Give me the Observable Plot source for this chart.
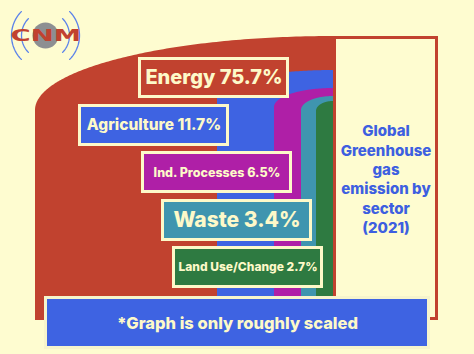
<!DOCTYPE html>
<html>
<head>
<meta charset="utf-8">
<script src="https://cdn.jsdelivr.net/npm/d3@7"></script>
<script src="https://cdn.jsdelivr.net/npm/@observablehq/plot@0.6"></script>
<style>
  html, body { margin: 0; padding: 0; background: #FEFCD0; }
  #chart svg { display: block; }
</style>
</head>
<body>
<div id="chart"></div>
<script>
// ---- data ----
const sectors = ["Energy", "Agriculture", "Ind. Processes", "Waste", "Land Use/Change"];
const shares = [75.7, 11.7, 6.5, 3.4, 2.7];
const titleLines = ["Global", "Greenhouse", "gas", "emission by", "sector", "(2021)"];
const note = "*Graph is only roughly scaled";
const logoText = "CNM";

// ---- layout / style (pixels in a 474x354 frame) ----
const W = 474, H = 354;
const bg = "#FEFCD0";
const cream = "#FDF9C9";
const colors = ["#C1422F", "#3E63E2", "#AF1FA7", "#3F95AF", "#2E7A41"];
const colLeft = [35, 217, 274, 301, 316];
const colTop = [36, 70, 88, 96, 101];
const colRy = [74, 25, 19, 14, 10];
const colBottom = [320, 300, 300, 300, 300];
const colRight = 333;
const boxes = [
  [138, 57, 289, 98],
  [78, 104, 229, 146],
  [141, 151, 292, 193],
  [161, 199, 312, 241],
  [172, 246, 323, 288]
];
const labelSize = [20, 15.5, 12.5, 21, 12];
const font = "Inter, 'Open Sans', sans-serif";

// column shapes: rounded (elliptical) top-left corner
const columns = sectors.flatMap((s, i) => {
  const n = 160, pts = [];
  for (let k = 0; k <= n; k++) {
    const t = (Math.PI / 2) * Math.pow(k / n, 1.6);
    pts.push({
      sector: s,
      x: colRight - (colRight - colLeft[i]) * Math.cos(t),
      y1: colTop[i] + colRy[i] - colRy[i] * Math.sin(t),
      y2: colBottom[i]
    });
  }
  return pts;
});

const labels = sectors.map((s, i) => ({
  text: `${s} ${shares[i]}%`,
  x1: boxes[i][0] + 1.5, y1: boxes[i][1] + 1.5,
  x2: boxes[i][2] - 1.5, y2: boxes[i][3] - 1.5,
  cx: (boxes[i][0] + boxes[i][2]) / 2,
  cy: (boxes[i][1] + boxes[i][3]) / 2,
  fill: colors[i],
  size: labelSize[i]
}));

// logo arcs
const arcs = [];
[24, 34].forEach(r => {
  [Math.PI, 0].forEach((c, side) => {
    for (let k = 0; k <= 30; k++) {
      const a = c + (-0.78 + 1.56 * k / 30);
      arcs.push({id: r + "-" + side, x: 45 + r * Math.cos(a), y: 35 + r * Math.sin(a)});
    }
  });
});

const chart = Plot.plot({
  width: W, height: H, margin: 0,
  x: {domain: [0, W], range: [0, W], axis: null},
  y: {domain: [0, H], range: [0, H], axis: null},
  color: {type: "identity"},
  style: {background: "transparent", overflow: "visible"},
  marks: [
    // right title panel
    Plot.rect([0], {x1: 334.5, x2: 436.5, y1: 37.5, y2: 318.5, fill: bg, stroke: colors[0], strokeWidth: 3}),
    // sector columns
    ...sectors.map((s, i) => Plot.areaY(columns.filter(d => d.sector === s), {
      x: "x", y1: "y1", y2: "y2", fill: colors[i], curve: "linear"
    })),
    // label boxes
    Plot.rect(labels, {x1: "x1", x2: "x2", y1: "y1", y2: "y2", fill: "fill", stroke: cream, strokeWidth: 3}),
    Plot.text(labels, {x: "cx", y: "cy", text: "text", fill: cream, fontSize: "size",
      fontWeight: 800, fontFamily: font}),
    // panel title
    Plot.text([titleLines.join("\n")], {x: 385.5, y: 178, text: d => d, fill: "#3D5FE0",
      fontSize: 15, fontWeight: 800, fontFamily: font, lineHeight: 1.3}),
    // bottom note
    Plot.rect([0], {x1: 45.5, x2: 428.5, y1: 297.5, y2: 347.5, fill: colors[1], stroke: "#F6F4CC", strokeWidth: 3}),
    Plot.text([note], {x: 237, y: 323, text: d => d, fill: cream, fontSize: 16.5, fontWeight: 800, fontFamily: font}),
    // logo
    Plot.line(arcs, {x: "x", y: "y", z: "id", stroke: "#5B82EA", strokeWidth: 1.3}),
    Plot.dot([0], {x: 45, y: 35, r: 13, fill: "#8d8f92"}),
    Plot.text([logoText], {x: 45, y: 35, text: d => d, fill: colors[0], fontSize: 16,
      fontWeight: 900, fontFamily: "'DejaVu Sans', sans-serif"})
  ]
});

document.getElementById("chart").append(chart);

// stretch logo text horizontally
const logoNode = Array.from(chart.querySelectorAll("text")).find(t => t.textContent === logoText);
if (logoNode) {
  const g = logoNode.closest("g") || logoNode.parentNode;
  const wrap = document.createElementNS("http://www.w3.org/2000/svg", "g");
  g.parentNode.insertBefore(wrap, g);
  wrap.appendChild(g);
  wrap.setAttribute("transform", "translate(45,0) scale(1.72,1) translate(-45,0)");
}
</script>
</body>
</html>
